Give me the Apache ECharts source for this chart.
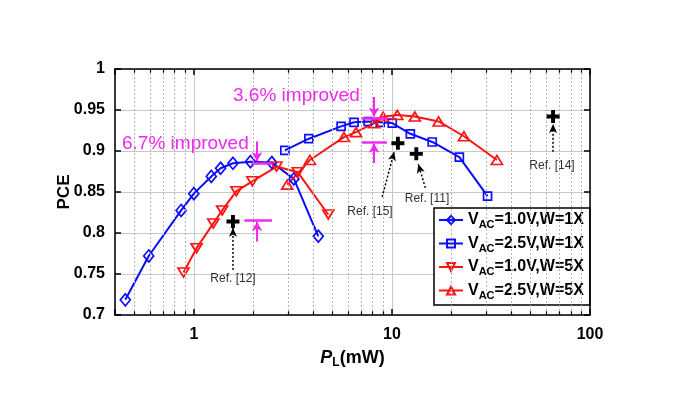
<!DOCTYPE html>
<html>
<head>
<meta charset="utf-8">
<script src="https://cdn.jsdelivr.net/npm/echarts@6/dist/echarts.min.js"></script>
<style>
    html, body { margin: 0; padding: 0; background: #fff; }
    #chart { width: 682px; height: 399px; }
</style>
</head>
<body>
<div id="chart"></div>
<script>
'use strict';
// 数据
var xDiamond = [0.451, 0.592, 0.863, 1.0, 1.225, 1.365, 1.576, 1.931, 2.476, 3.20, 4.25];
var yDiamond = [0.7185, 0.772, 0.8275, 0.848, 0.869, 0.879, 0.885, 0.887, 0.886, 0.866, 0.796];

var xSquare = [2.88, 3.81, 5.54, 6.44, 7.59, 8.73, 10.04, 12.39, 15.98, 21.9, 30.4];
var ySquare = [0.9007, 0.915, 0.930, 0.935, 0.936, 0.935, 0.934, 0.921, 0.911, 0.8925, 0.845];

var xDown = [0.887, 1.032, 1.254, 1.390, 1.640, 1.976, 2.615, 3.35, 4.77];
var yDown = [0.7518, 0.7815, 0.8117, 0.8275, 0.851, 0.863, 0.881, 0.874, 0.8226];

var xUp = [2.96, 3.855, 5.73, 6.59, 8.13, 9.03, 10.64, 13.05, 17.22, 23.1, 33.9];
var yUp = [0.859, 0.889, 0.917, 0.923, 0.934, 0.9417, 0.944, 0.942, 0.936, 0.918, 0.889];

var refNames = ['Ref. [12]', 'Ref. [15]', 'Ref. [11]', 'Ref. [14]'];
var refX = [1.576, 10.72, 13.28, 65.1];
var refY = [0.814, 0.9095, 0.8965, 0.942];

var seriesNames = ['VAC=1.0V,W=1X', 'VAC=2.5V,W=1X', 'VAC=1.0V,W=5X', 'VAC=2.5V,W=5X'];
var minorX = [0.5, 0.6, 0.7, 0.8, 0.9, 2, 3, 4, 5, 6, 7, 8, 9, 20, 30, 40, 50, 60, 70, 80, 90];

var BLUE = '#0c0cff';
var RED = '#ff1414';
var MAGENTA = '#f028f0';
var FONT = 'Liberation Sans, Arial, sans-serif';

function pairs(xs, ys) {
    return xs.map(function (x, i) { return [x, ys[i]]; });
}

function isDecade(v) {
    var l = Math.log(v) / Math.LN10;
    return v >= 1 && Math.abs(l - Math.round(l)) < 1e-6;
}

function lineSeries(name, xs, ys, color, symbol, size, rotate) {
    return {
        name: name,
        type: 'line',
        data: pairs(xs, ys),
        symbol: symbol,
        symbolSize: size,
        symbolRotate: rotate || 0,
        showAllSymbol: true,
        z: 3,
        lineStyle: { color: color, width: 2 },
        itemStyle: { color: 'rgba(255,255,255,0)', borderColor: color, borderWidth: 1.7 },
        emphasis: { disabled: true },
        animation: false
    };
}

// 次网格线和次刻度
var minorLines = [];
minorX.forEach(function (x) {
    minorLines.push([{ coord: [x, 0.7] }, { coord: [x, 1] }]);
});
var minorTicks = [];
minorX.forEach(function (x) {
    minorTicks.push([{ coord: [x, 0.7] }, { coord: [x, 0.7045] }]);
    minorTicks.push([{ coord: [x, 1] }, { coord: [x, 0.9955] }]);
});

// 虚线箭头（Ref 标注）
var refArrows = [
    [{ coord: [1.576, 0.755] }, { coord: [1.576, 0.8063] }],
    [{ coord: [8.93, 0.844] }, { coord: [10.27, 0.899] }],
    [{ coord: [14.75, 0.855] }, { coord: [13.59, 0.884] }],
    [{ coord: [65.1, 0.899] }, { coord: [65.1, 0.933] }]
];

// 品红色改进标注
var tBars = [
    [{ coord: [1.95, 0.8855] }, { coord: [2.5, 0.8855] }],
    [{ coord: [1.8, 0.8155] }, { coord: [2.48, 0.8155] }],
    [{ coord: [7.05, 0.94] }, { coord: [9.43, 0.94] }],
    [{ coord: [7.05, 0.9107] }, { coord: [9.43, 0.9107] }]
];
var tArrows = [
    [{ coord: [2.085, 0.9115] }, { coord: [2.085, 0.8875] }],
    [{ coord: [2.085, 0.7896] }, { coord: [2.085, 0.8135] }],
    [{ coord: [8.13, 0.966] }, { coord: [8.13, 0.942] }],
    [{ coord: [8.13, 0.8855] }, { coord: [8.13, 0.9087] }]
];

var chart = echarts.init(document.getElementById('chart'), null, { renderer: 'canvas' });

var axisLineStyle = { color: '#000', width: 1.5 };

var option = {
    backgroundColor: '#fff',
    animation: false,
    textStyle: { fontFamily: FONT },
    grid: { left: 115, top: 69, right: 92, bottom: 84 },
    legend: {
        data: seriesNames,
        orient: 'vertical',
        left: 434,
        top: 208,
        itemWidth: 24,
        itemHeight: 10,
        itemGap: 5,
        padding: [4, 6, 4, 4],
        backgroundColor: '#fff',
        borderColor: '#000',
        borderWidth: 1.5,
        selectedMode: false,
        formatter: function (name) {
            return '{v|V}{s|AC}{v|' + name.substring(3) + '}';
        },
        textStyle: {
            rich: {
                v: { fontSize: 16, fontWeight: 'bold', color: '#000', fontFamily: FONT },
                s: { fontSize: 11, fontWeight: 'bold', color: '#000', fontFamily: FONT, padding: [10, 0, 0, 0] }
            }
        }
    },
    xAxis: [{
        type: 'log',
        logBase: 10,
        min: 0.4,
        max: 100,
        position: 'bottom',
        axisLine: { show: true, lineStyle: axisLineStyle },
        axisTick: { show: true, inside: true, length: 6, lineStyle: axisLineStyle },
        axisLabel: {
            margin: 12,
            fontSize: 16,
            fontWeight: 'bold',
            color: '#000',
            formatter: function (v) { return isDecade(v) ? String(Math.round(v)) : ''; }
        },
        splitLine: { show: true, lineStyle: { color: '#c8c8c8', width: 1 } },
        name: '{i|P}{s|L}{n|(mW)}',
        nameLocation: 'middle',
        nameGap: 33,
        nameMoveOverlap: false,
        nameTextStyle: {
            rich: {
                i: { fontSize: 18, fontWeight: 'bold', fontStyle: 'italic', color: '#000', fontFamily: FONT },
                s: { fontSize: 12, fontWeight: 'bold', color: '#000', fontFamily: FONT, padding: [9, 0, 0, 0] },
                n: { fontSize: 18, fontWeight: 'bold', color: '#000', fontFamily: FONT }
            }
        }
    }, {
        type: 'log',
        logBase: 10,
        min: 0.4,
        max: 100,
        position: 'top',
        axisLine: { show: true, lineStyle: axisLineStyle },
        axisTick: { show: true, inside: true, length: 6, lineStyle: axisLineStyle },
        axisLabel: { show: false },
        splitLine: { show: false }
    }],
    yAxis: [{
        type: 'value',
        min: 0.7,
        max: 1,
        interval: 0.05,
        position: 'left',
        axisLine: { show: true, lineStyle: axisLineStyle },
        axisTick: { show: true, inside: true, length: 6, lineStyle: axisLineStyle },
        axisLabel: { margin: 10, fontSize: 16, fontWeight: 'bold', color: '#000' },
        splitLine: { show: true, lineStyle: { color: '#c8c8c8', width: 1 } },
        name: 'PCE',
        nameLocation: 'middle',
        nameGap: 42,
        nameMoveOverlap: false,
        nameTextStyle: { fontSize: 17, fontWeight: 'bold', color: '#000' }
    }, {
        type: 'value',
        min: 0.7,
        max: 1,
        interval: 0.05,
        position: 'right',
        axisLine: { show: true, lineStyle: axisLineStyle },
        axisTick: { show: true, inside: true, length: 6, lineStyle: axisLineStyle },
        axisLabel: { show: false },
        splitLine: { show: false }
    }],
    series: [
        {
            name: 'grid',
            type: 'scatter',
            data: [],
            z: 1,
            silent: true,
            markLine: {
                silent: true,
                symbol: ['none', 'none'],
                label: { show: false },
                animation: false,
                lineStyle: { color: '#b4b4b4', width: 1, type: [2, 2] },
                data: minorLines
            }
        },
        {
            name: 'ticks',
            type: 'scatter',
            data: [],
            z: 5,
            silent: true,
            markLine: {
                silent: true,
                symbol: ['none', 'none'],
                label: { show: false },
                animation: false,
                lineStyle: { color: '#000', width: 1.2, type: 'solid' },
                data: minorTicks
            }
        },
        lineSeries(seriesNames[0], xDiamond, yDiamond, BLUE, 'diamond', [10, 12]),
        lineSeries(seriesNames[1], xSquare, ySquare, BLUE, 'rect', 8),
        lineSeries(seriesNames[2], xDown, yDown, RED, 'triangle', [11, 9], 180),
        lineSeries(seriesNames[3], xUp, yUp, RED, 'triangle', [11, 9]),
        {
            name: 'refs',
            type: 'scatter',
            data: pairs(refX, refY),
            symbol: 'path://M3.5,0H6.5V3.5H10V6.5H6.5V10H3.5V6.5H0V3.5H3.5Z',
            symbolSize: 13,
            itemStyle: { color: '#000', opacity: 1 },
            z: 6,
            silent: true,
            markLine: {
                silent: true,
                symbol: ['none', 'arrow'],
                symbolSize: [6, 9],
                label: { show: false },
                animation: false,
                lineStyle: { color: '#000', width: 1.5, type: [2, 2] },
                data: refArrows
            }
        },
        {
            name: 'bars',
            type: 'scatter',
            data: [],
            z: 7,
            silent: true,
            markLine: {
                silent: true,
                symbol: ['none', 'none'],
                label: { show: false },
                animation: false,
                lineStyle: { color: MAGENTA, width: 2.5, type: 'solid' },
                data: tBars
            }
        },
        {
            name: 'arrows',
            type: 'scatter',
            data: [],
            z: 7,
            silent: true,
            markLine: {
                silent: true,
                symbol: ['none', 'arrow'],
                symbolSize: [8, 9],
                label: { show: false },
                animation: false,
                lineStyle: { color: MAGENTA, width: 2, type: 'solid' },
                data: tArrows
            }
        }
    ],
    graphic: [
        { type: 'text', left: 122, top: 134, z: 10, style: { text: '6.7% improved', fill: MAGENTA, font: '19px ' + FONT } },
        { type: 'text', left: 233, top: 86, z: 10, style: { text: '3.6% improved', fill: MAGENTA, font: '19px ' + FONT } },
        { type: 'text', x: 233, y: 279, z: 10, style: { text: refNames[0], fill: '#333', font: '12px ' + FONT, align: 'center', verticalAlign: 'middle' } },
        { type: 'text', x: 370, y: 212, z: 10, style: { text: refNames[1], fill: '#333', font: '12px ' + FONT, align: 'center', verticalAlign: 'middle' } },
        { type: 'text', x: 427, y: 199, z: 10, style: { text: refNames[2], fill: '#333', font: '12px ' + FONT, align: 'center', verticalAlign: 'middle' } },
        { type: 'text', x: 552, y: 166, z: 10, style: { text: refNames[3], fill: '#333', font: '12px ' + FONT, align: 'center', verticalAlign: 'middle' } }
    ]
};

chart.setOption(option);
</script>
</body>
</html>
